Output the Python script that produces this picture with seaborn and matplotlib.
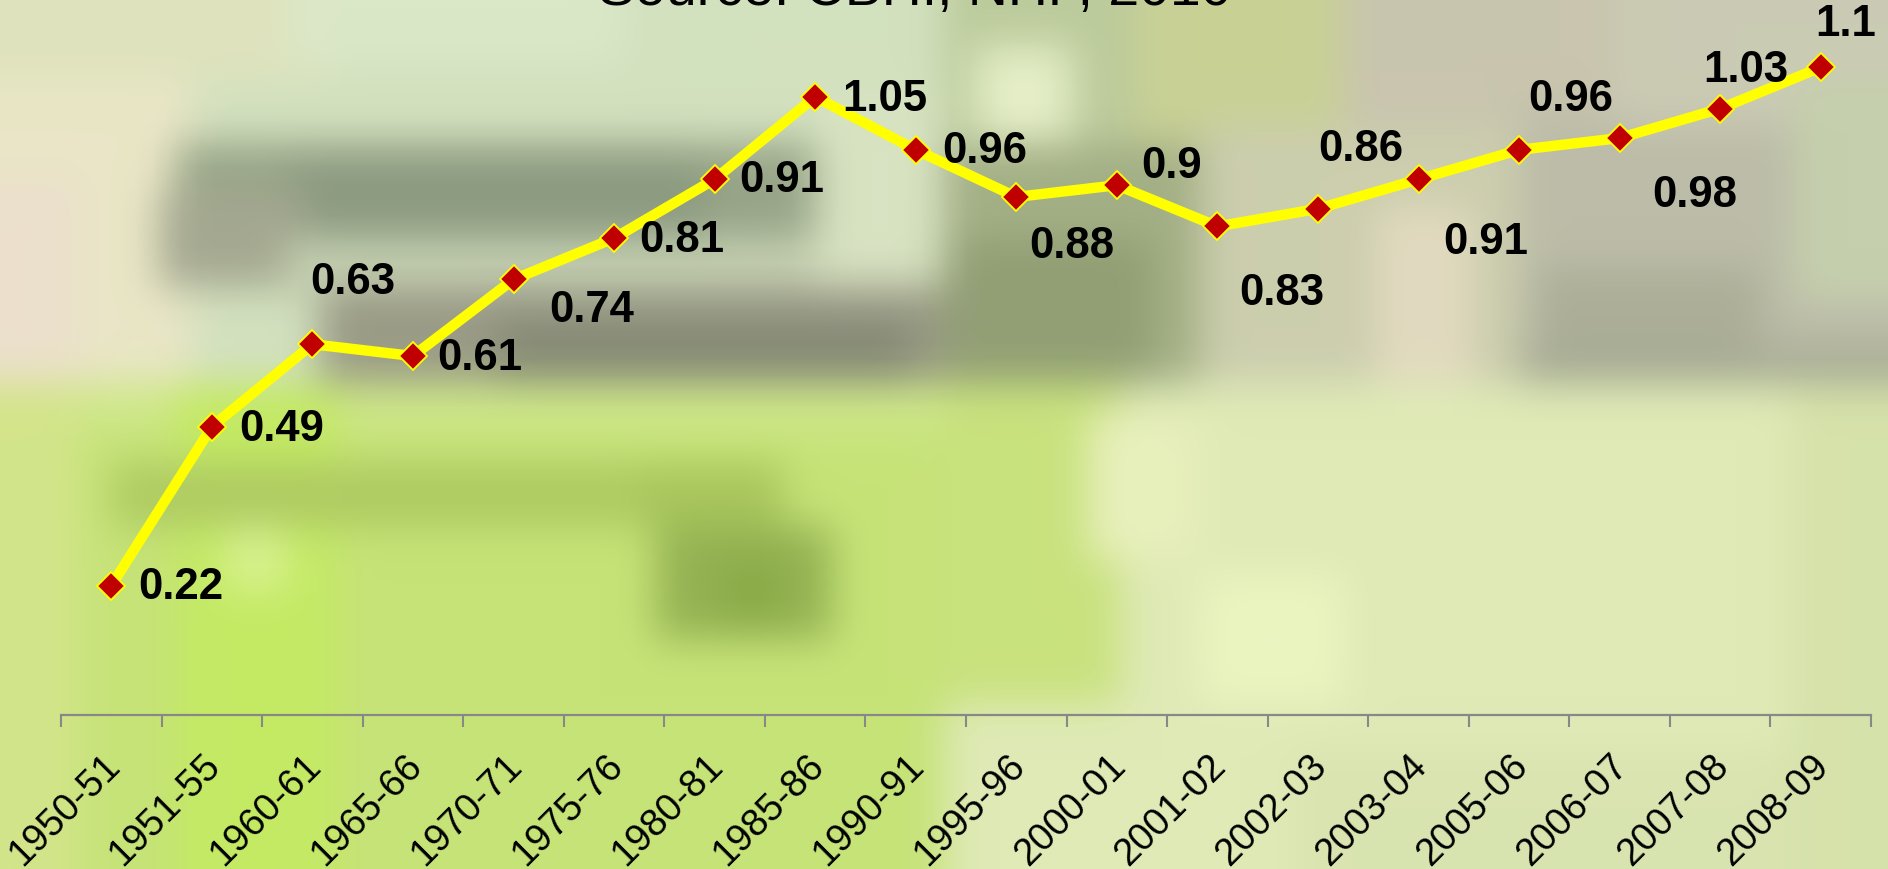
import numpy as np
import pandas as pd
import matplotlib
matplotlib.use("Agg")
import matplotlib.pyplot as plt
import seaborn as sns
from matplotlib.colors import to_rgb
from matplotlib.transforms import ScaledTranslation

# ---- data -------------------------------------------------------------
periods = ["1950-51", "1951-55", "1960-61", "1965-66", "1970-71", "1975-76",
           "1980-81", "1985-86", "1990-91", "1995-96", "2000-01", "2001-02",
           "2002-03", "2003-04", "2005-06", "2006-07", "2007-08", "2008-09"]
values = [0.22, 0.49, 0.63, 0.61, 0.74, 0.81, 0.91, 1.05, 0.96, 0.88,
          0.90, 0.83, 0.86, 0.91, 0.96, 0.98, 1.03, 1.10]

# value-label offsets from each marker (pixels: right, down)
label_dx = [70, 70, 40, 67, 78, 68, 67, 70, 69, 56, 55, 64, 43, 67, 52, 75, 26, 25]
label_dy = [1, 2, -63, 1, 30, 1, 0, 2, 1, 49, -20, 66, -60, 62, -51, 56, -39, -44]

title_text = "Source: CBHI, NHP, 2010"

# ---- figure -----------------------------------------------------------
sns.set_theme(style="white")
plt.rcParams["font.family"] = ["Liberation Sans", "DejaVu Sans"]

W, H = 1888, 870
DPI = 100
fig = plt.figure(figsize=(W / DPI, H / DPI), dpi=DPI)

# ---- soft photographic backdrop -------------------------------------
CELL = 16
gh, gw = int(np.ceil(H / CELL)), int(np.ceil(W / CELL))
canvas = np.zeros((gh, gw, 3))


def paint(x0, y0, x1, y1, color):
    r0, r1 = int(y0 / CELL), min(gh, int(np.ceil(y1 / CELL)))
    c0, c1 = int(x0 / CELL), min(gw, int(np.ceil(x1 / CELL)))
    canvas[r0:r1, c0:c1] = to_rgb(color)


patches = [
    # upper half
    (0, 0, 1888, 384, "#d3e1bf"),
    (0, 0, 180, 384, "#e9e6c6"),
    (0, 180, 70, 384, "#ece0cc"),
    (0, 0, 330, 70, "#dfe3bd"),
    (300, 0, 620, 60, "#dbe8c8"),
    (180, 150, 830, 250, "#97a487"),
    (300, 165, 700, 230, "#8c9a80"),
    (170, 200, 300, 280, "#a4a890"),
    (300, 250, 900, 300, "#c8d3b4"),
    (830, 100, 944, 300, "#d8e3c2"),
    (330, 290, 950, 384, "#9a9b86"),
    (500, 320, 900, 375, "#868a76"),
    (944, 0, 1200, 150, "#bccb9c"),
    (990, 50, 1060, 170, "#e6efc8"),
    (944, 150, 1200, 384, "#a3af85"),
    (944, 250, 1150, 384, "#929f75"),
    (1150, 0, 1350, 140, "#c9d195"),
    (1200, 140, 1520, 384, "#ccceae"),
    (1390, 220, 1460, 384, "#e2dac0"),
    (1350, 0, 1620, 120, "#c9c5af"),
    (1520, 120, 1888, 384, "#bcbca8"),
    (1550, 280, 1750, 384, "#acae98"),
    (1620, 0, 1888, 120, "#cbcbb4"),
    (1800, 80, 1888, 300, "#c5cfad"),
    (1530, 365, 1888, 384, "#a4a892"),
    # lower half
    (0, 384, 944, 870, "#c6e378"),
    (0, 384, 944, 420, "#cfe88a"),
    (0, 384, 70, 870, "#d3e58a"),
    (180, 384, 330, 870, "#c4ea64"),
    (120, 465, 650, 520, "#aecb62"),
    (230, 540, 280, 580, "#d8f290"),
    (640, 470, 780, 520, "#a8c65c"),
    (670, 540, 820, 640, "#94b252"),
    (720, 570, 780, 620, "#8aaa48"),
    (944, 384, 1888, 870, "#dfeab6"),
    (944, 384, 1110, 700, "#c9e27e"),
    (1100, 430, 1200, 560, "#e8f0bc"),
    (1200, 580, 1330, 700, "#eaf5c0"),
    (1300, 760, 1888, 870, "#d9e4b0"),
    (1800, 384, 1888, 870, "#d6e2aa"),
]
for p in patches:
    paint(*p)


def smooth(img, sigma):
    r = int(3 * sigma)
    k = np.exp(-0.5 * (np.arange(-r, r + 1) / sigma) ** 2)
    k /= k.sum()
    out = np.pad(img, ((r, r), (0, 0), (0, 0)), mode="edge")
    out = np.apply_along_axis(lambda v: np.convolve(v, k, mode="valid"), 0, out)
    out = np.pad(out, ((0, 0), (r, r), (0, 0)), mode="edge")
    out = np.apply_along_axis(lambda v: np.convolve(v, k, mode="valid"), 1, out)
    return out


backdrop = np.clip(smooth(canvas, 1.2), 0, 1)
bg = fig.add_axes([0, 0, 1, 1])
bg.imshow(backdrop, extent=[0, gw * CELL, gh * CELL, 0],
          interpolation="bilinear", aspect="auto")
bg.set_xlim(0, W)
bg.set_ylim(H, 0)
bg.axis("off")

# ---- chart ------------------------------------------------------------
axis_y = 716.3
ax = fig.add_axes([61 / W, (H - axis_y) / H, (1871 - 61) / W, axis_y / H])
ax.patch.set_alpha(0)

df = pd.DataFrame({"pos": np.arange(len(periods)), "value": values})
sns.lineplot(data=df, x="pos", y="value", ax=ax, color="#ffff00",
             linewidth=7.5, marker="D", markersize=14.5,
             markerfacecolor="#c00000", markeredgecolor="#ffff00",
             markeredgewidth=1.3)

ax.set_xlim(-0.5, len(periods) - 0.5)
ax.set_ylim(0, axis_y / 589.0)
ax.set_xlabel("")
ax.set_ylabel("")
ax.set_yticks([])
for side in ("top", "right", "left"):
    ax.spines[side].set_visible(False)
ax.spines["bottom"].set_color("#888888")
ax.spines["bottom"].set_linewidth(1.6)

# tick marks sit between categories, labels at category centres
ax.set_xticks(np.arange(-0.5, len(periods), 1.0))
ax.set_xticklabels([])
ax.set_xticks(np.arange(len(periods)), labels=periods, minor=True)
ax.tick_params(axis="x", which="major", length=8.6, width=1.5,
               color="#888888", direction="out", bottom=True)
ax.tick_params(axis="x", which="minor", length=0, pad=32,
               labelsize=27.5, labelcolor="black", bottom=True)
shift = ScaledTranslation(3 / DPI, 0, fig.dpi_scale_trans)
for lab in ax.get_xticklabels(minor=True):
    lab.set_rotation(45)
    lab.set_ha("right")
    lab.set_va("center")
    lab.set_rotation_mode("anchor")
    lab.set_transform(lab.get_transform() + shift)

# value labels
for i, v in enumerate(values):
    ax.annotate(f"{v:g}", xy=(i, v), xytext=(label_dx[i] * 0.72, -label_dy[i] * 0.72),
                textcoords="offset points", ha="center", va="center",
                fontsize=31.5, fontweight="bold", color="black")

fig.text(915 / W, 1 - 5 / H, title_text, ha="center", va="baseline",
         fontsize=40, color="black")

fig.savefig("out.png", dpi=DPI)
